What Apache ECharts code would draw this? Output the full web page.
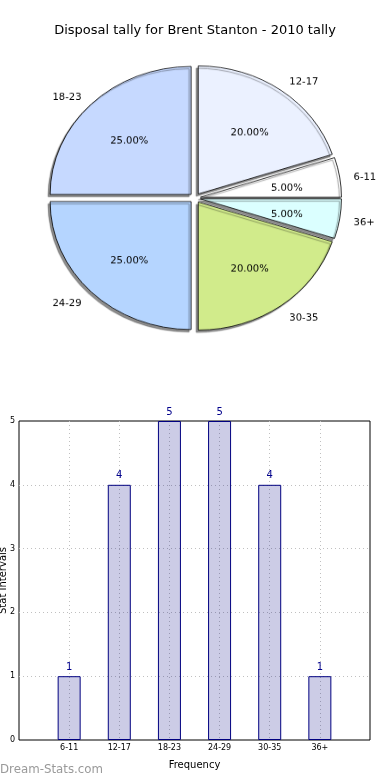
<!DOCTYPE html>
<html><head><meta charset="utf-8">
<script src="https://cdn.jsdelivr.net/npm/echarts@6/dist/echarts.min.js"></script>
<style>
html,body{margin:0;padding:0;background:#fff;}
#main{position:absolute;left:0;top:0;width:390px;height:780px;}
#pie{position:absolute;left:0;top:0;width:390px;height:400px;transform:scaleY(0.908);transform-origin:195px 198px;}
</style></head>
<body>
<div id="main"></div>
<div id="pie"></div>
<script>
const categories = ['6-11','12-17','18-23','24-29','30-35','36+'];
const counts = [1,4,5,5,4,1];
const sliceColors = ['#FFFFFF','#EBF1FF','#C6D9FF','#B5D5FF','#D1EB8B','#DBFFFF'];
const yTicks = [0,1,2,3,4,5];
const titleText = 'Disposal tally for Brent Stanton - 2010 tally';
const FONT = 'DejaVu Sans';

const total = counts.reduce((a,b)=>a+b,0);

const main = echarts.init(document.getElementById('main'), null, {renderer:'canvas'});
main.setOption({
  animation:false,
  textStyle:{fontFamily:FONT},
  title:{text:titleText,left:'center',top:19,textStyle:{fontFamily:FONT,fontSize:13,fontWeight:'normal',color:'#000'}},
  graphic:[{type:'text',left:0,top:764,style:{text:'Dream-Stats.com',font:'11.8px "DejaVu Sans"',fill:'#9a9a9a'}}],
  grid:{left:19,right:20,top:421,bottom:40,outerBoundsMode:'none',containLabel:false,show:true,borderColor:'#000',borderWidth:1,backgroundColor:'transparent'},
  xAxis:{type:'value',min:-1,max:6,interval:1,
    name:'Frequency',nameLocation:'middle',nameGap:20,nameTextStyle:{fontFamily:FONT,fontSize:10,color:'#000'},
    axisLine:{show:false},axisTick:{show:false},
    axisLabel:{fontFamily:FONT,fontSize:8,color:'#000',margin:4,formatter:v=>categories[v]!==undefined?categories[v]:''},
    splitLine:{show:true,showMinLine:false,showMaxLine:false,lineStyle:{color:'#c0c0c0',type:[1,3],width:1}}},
  yAxis:{type:'value',min:0,max:5,interval:1,
    name:'Stat Intervals',nameLocation:'middle',nameGap:11,nameRotate:90,nameMoveOverlap:false,nameTextStyle:{fontFamily:FONT,fontSize:10,color:'#000'},
    axisLine:{show:false},axisTick:{show:false},
    axisLabel:{fontFamily:FONT,fontSize:8,color:'#000',margin:4,formatter:v=>yTicks.includes(v)?String(v):''},
    splitLine:{show:true,showMinLine:false,showMaxLine:false,lineStyle:{color:'#c0c0c0',type:[1,3],width:1}}},
  series:[{type:'bar',barWidth:23,
    data:counts.map((c,i)=>[i,c]),
    itemStyle:{color:'rgba(0,0,128,0.2)',borderColor:'#000080',borderWidth:1},
    label:{show:true,position:'top',distance:4,fontFamily:FONT,fontSize:10,color:'#00008B',formatter:p=>String(p.value[1])}
  }]
});

const pie = echarts.init(document.getElementById('pie'), null, {renderer:'canvas'});
const pieData = categories.map((c,i)=>({name:c,value:counts[i],selected:true,itemStyle:{color:sliceColors[i]}}));
pie.setOption({
  animation:false,
  series:[
    {type:'pie',center:[195,198],radius:[0,141],startAngle:0,clockwise:false,
     selectedMode:'multiple',selectedOffset:5.5,avoidLabelOverlap:false,silent:true,
     itemStyle:{borderColor:'#000',borderWidth:0.8,shadowBlur:1,shadowColor:'rgba(0,0,0,0.45)',shadowOffsetX:-2,shadowOffsetY:2.5},
     label:{show:true,position:'outside',distanceToLabelLine:0,fontFamily:FONT,fontSize:10,color:'#000',formatter:'{b}'},
     labelLine:{show:false,length:14,length2:0},
     labelLayout:{dy:2.5},
     data:pieData},
    {type:'pie',center:[195,198],radius:[28,141],startAngle:0,clockwise:false,
     selectedMode:'multiple',selectedOffset:5.5,avoidLabelOverlap:false,silent:true,
     itemStyle:{color:'transparent',borderWidth:0},
     label:{show:true,position:'inner',fontFamily:FONT,fontSize:10,color:'#000',
       formatter:p=>(p.value/total*100).toFixed(2)+'%'},
     labelLine:{show:false},
     labelLayout:{dy:3.5},
     data:categories.map((c,i)=>({name:c,value:counts[i],selected:true}))}
  ]
});
</script>
</body></html>
